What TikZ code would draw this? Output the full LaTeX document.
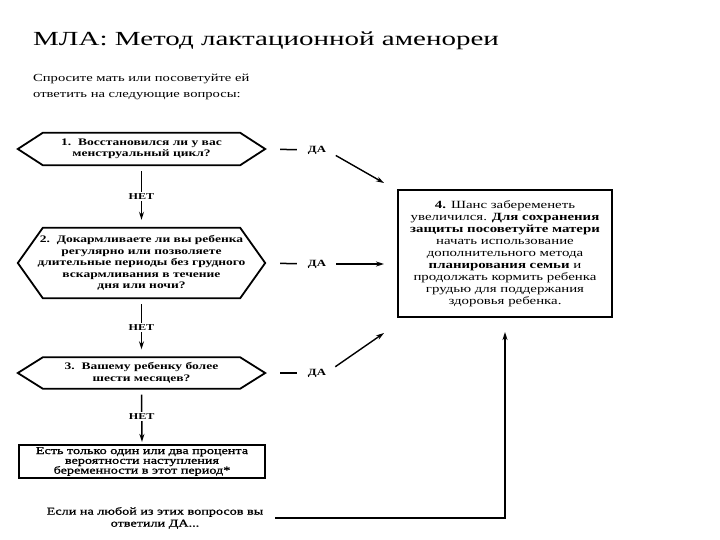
\documentclass[tikz,border=0pt]{standalone}
\usepackage{fontspec}
\setmainfont{Liberation Serif}[FakeStretch=1.35]
\newfontfamily\titlefont{Liberation Serif}[FakeStretch=1.45]
\usetikzlibrary{arrows.meta}
\begin{document}
\begin{tikzpicture}[x=1pt,y=-1pt,
  hexline/.style={line width=1.8pt, line join=miter},
  qtext/.style={font=\bfseries\fontsize{10}{11.5}\selectfont, align=center, inner sep=0pt, minimum width=247pt},
  lab/.style={font=\bfseries\fontsize{9}{10}\selectfont, inner sep=1.5pt, fill=white},
  dalab/.style={font=\bfseries\fontsize{9.5}{10}\selectfont, inner sep=0pt},
  conn/.style={line width=1.5pt},
  arr/.style={line width=1.4pt, -{Stealth[length=8pt,width=5pt]}},
  nolink/.style={conn, shorten <=6pt, shorten >=8pt, -{Stealth[length=8pt,width=5pt]}},
]
\useasboundingbox[fill=white] (0,0) rectangle (720,540);

\node[anchor=base west, font=\titlefont\fontsize{20}{24}\selectfont, inner sep=0pt] (title) at (33,46) {МЛА: Метод лактационной аменореи};

\node[anchor=north west, align=left, font=\fontsize{10.8}{16}\selectfont, inner sep=0pt] (intro) at (33,74) {Спросите мать или посоветуйте ей\\ответить на следующие вопросы:};

% question 1
\node[qtext, minimum height=32pt] (q1) at (141.5,149) {1.~~Восстановился ли у вас\\менструальный цикл?};
\draw[hexline] (q1.west) -- ([xshift=25pt]q1.north west) -- ([xshift=-25pt]q1.north east) -- (q1.east) -- ([xshift=-25pt]q1.south east) -- ([xshift=25pt]q1.south west) -- cycle;

% question 2
\node[qtext, minimum height=70pt] (q2) at (141.5,263) {2.~~Докармливаете ли вы ребенка\\регулярно или позволяете\\длительные периоды без грудного\\вскармливания в течение\\дня или ночи?};
\draw[hexline] (q2.west) -- ([xshift=25pt]q2.north west) -- ([xshift=-25pt]q2.north east) -- (q2.east) -- ([xshift=-25pt]q2.south east) -- ([xshift=25pt]q2.south west) -- cycle;

% question 3
\node[qtext, minimum height=31pt] (q3) at (141.5,373) {3.~~Вашему ребенку более\\шести месяцев?};
\draw[hexline] (q3.west) -- ([xshift=25pt]q3.north west) -- ([xshift=-25pt]q3.north east) -- (q3.east) -- ([xshift=-25pt]q3.south east) -- ([xshift=25pt]q3.south west) -- cycle;

% result box (NO)
\node[draw, line width=2.2pt, minimum width=246pt, minimum height=33pt, inner sep=0pt, align=center,
  font=\fontsize{10.5}{9.8}\selectfont\addfontfeature{FakeBold=1.2}] (r5) at (142,461.5)
  {Есть только один или два процента\\вероятности наступления\\беременности в этот период*};

% bottom note
\node[align=center, inner sep=0pt, font=\fontsize{10.5}{12}\selectfont\addfontfeature{FakeBold=1.2}] (note) at (155,518)
  {Если на любой из этих вопросов вы\\ответили ДА...};

% box 4
\node[draw, line width=2pt, minimum width=214pt, minimum height=127pt, inner sep=0pt, align=center,
  font=\fontsize{11}{12}\selectfont] (b4) at (505,253.5)
  {\textbf{4.} Шанс забеременеть\\увеличился. \textbf{Для сохранения}\\\textbf{защиты посоветуйте матери}\\начать использование\\дополнительного метода\\\textbf{планирования семьи} и\\продолжать кормить ребенка\\грудью для поддержания\\здоровья ребенка.};

% YES labels
\node[dalab] (da1) at (317,150) {ДА};
\node[dalab] (da2) at (317,264) {ДА};
\node[dalab] (da3) at (317,373) {ДА};
\coordinate (t1) at (384,183);
\coordinate (t2) at (384,264);
\coordinate (t3) at (384,333);

\draw[conn, shorten <=15pt, shorten >=11pt] (q1.east) -- (da1.west);
\draw[conn, shorten <=15pt, shorten >=11pt] (q2.east) -- (da2.west);
\draw[conn, shorten <=15pt, shorten >=11pt] (q3.east) -- (da3.west);

\draw[arr, shorten <=11pt] (da1.east) -- (t1);
\draw[arr, shorten <=10pt] (da2.east) -- (t2);
\draw[arr, shorten <=11pt] (da3.east) -- (t3);

% NO links
\draw[nolink] (q1.south) -- node[lab] {НЕТ} (q2.north);
\draw[nolink] (q2.south) -- node[lab] {НЕТ} (q3.north);
\draw[nolink, shorten >=2pt] (q3.south) -- node[lab] {НЕТ} (r5.north);

% bottom connector
\draw[arr, shorten <=12pt, shorten >=14pt] (note.east) -| (b4.south);
\end{tikzpicture}
\end{document}
